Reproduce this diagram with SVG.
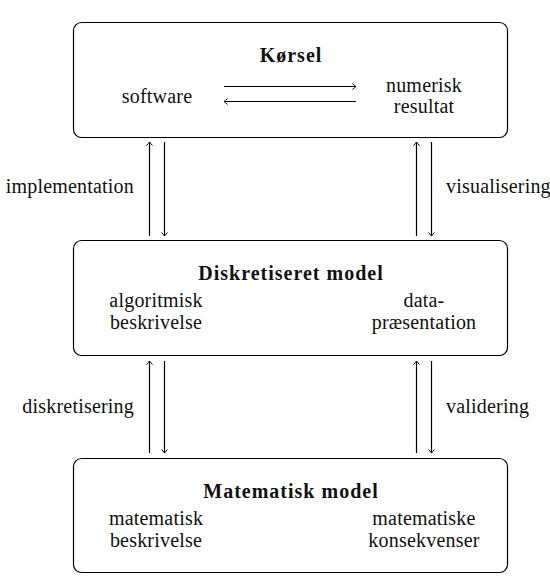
<svg xmlns="http://www.w3.org/2000/svg" width="550" height="580" viewBox="0 0 550 580">
<style>
text{font-family:"Liberation Serif","Times New Roman",serif;font-size:20px;fill:#111;letter-spacing:0.2px}
.t{font-weight:bold;letter-spacing:1px}
.m{text-anchor:middle}
.e{text-anchor:end}
.box{fill:#fff;stroke:#000;stroke-width:1.2}
.c line{stroke:#000;stroke-width:1.2;marker-end:url(#ah)}
</style>
<defs>
<marker id="ah" markerUnits="userSpaceOnUse" viewBox="-5 -4 6 8" refX="0" refY="0" markerWidth="6" markerHeight="8" orient="auto">
<path d="M-3.5,-3 Q-1,-0.6 0,0 Q-1,0.6 -3.5,3" fill="none" stroke="#000" stroke-width="1"/>
</marker>
</defs>
<rect width="550" height="580" fill="#fff"/>
<g id="korsel">
<rect class="box" x="73.5" y="22.5" width="434" height="115" rx="8"/>
<text class="t m" x="291" y="62">Kørsel</text>
<text class="m" x="157" y="103">software</text>
<text class="m" x="424" y="92">numerisk</text>
<text class="m" x="424" y="113">resultat</text>
</g>
<g id="diskret">
<rect class="box" x="73.5" y="240.5" width="434" height="115" rx="8"/>
<text class="t m" x="291" y="280">Diskretiseret model</text>
<text class="m" x="156" y="307">algoritmisk</text>
<text class="m" x="156" y="329">beskrivelse</text>
<text class="m" x="424" y="307">data-</text>
<text class="m" x="424" y="329">præsentation</text>
</g>
<g id="matematisk">
<rect class="box" x="73.5" y="458.5" width="434" height="114" rx="8"/>
<text class="t m" x="291" y="498">Matematisk model</text>
<text class="m" x="156" y="525">matematisk</text>
<text class="m" x="156" y="547">beskrivelse</text>
<text class="m" x="424" y="525">matematiske</text>
<text class="m" x="424" y="547">konsekvenser</text>
</g>
<g id="connectors" class="c">
<line x1="224" y1="86.5" x2="356" y2="86.5"/>
<line x1="356" y1="101.5" x2="224" y2="101.5"/>
<line x1="149.5" y1="236" x2="149.5" y2="142"/>
<line x1="164.5" y1="142" x2="164.5" y2="236"/>
<line x1="416.5" y1="236" x2="416.5" y2="142"/>
<line x1="431.5" y1="142" x2="431.5" y2="236"/>
<line x1="149.5" y1="453" x2="149.5" y2="361"/>
<line x1="164.5" y1="361" x2="164.5" y2="453"/>
<line x1="416.5" y1="453" x2="416.5" y2="361"/>
<line x1="431.5" y1="361" x2="431.5" y2="453"/>
</g>
<g id="labels">
<text class="e" x="134" y="193">implementation</text>
<text x="446" y="193">visualisering</text>
<text class="e" x="134" y="413">diskretisering</text>
<text x="446" y="413">validering</text>
</g>
</svg>
